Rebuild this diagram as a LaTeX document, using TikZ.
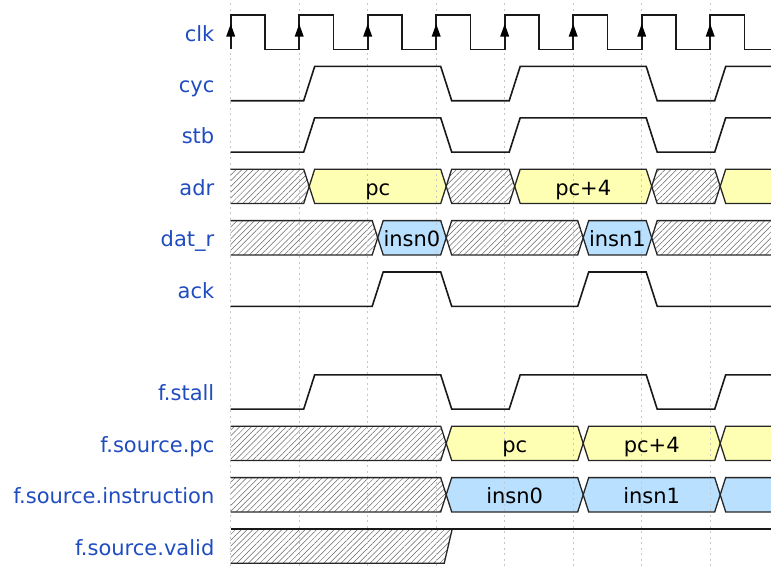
\documentclass[tikz,border=0pt]{standalone}
\usepackage{fontspec}
\setmainfont{DejaVu Sans}
\usetikzlibrary{patterns.meta}
\definecolor{lblblue}{HTML}{1F4CC0}
\definecolor{dyel}{HTML}{FFFFB4}
\definecolor{dblu}{HTML}{B9E0FF}
\pgfdeclarelayer{bg}
\pgfdeclarelayer{gridlayer}
\pgfsetlayers{bg,gridlayer,main}

\def\E#1{(230.7+68.5*(#1))}
\def\RT#1{(15+51.4*(#1))}
\def\RB#1{(49.3+51.4*(#1))}
\def\RM#1{(32.15+51.4*(#1))}

\tikzset{
  sig/.style={line width=1.6pt, line join=miter, black!90},
  busline/.style={line width=1.3pt, black!85, line join=miter},
  hatchfill/.style={pattern={Lines[angle=45,distance=4.1pt,line width=0.5pt]}, pattern color=black!60},
  yelfill/.style={fill=dyel},
  blufill/.style={fill=dblu},
  lbl/.style={anchor=base east, inner sep=0pt, text=lblblue, font=\fontsize{21}{21}\selectfont},
  bustext/.style={anchor=base, inner sep=0pt, font=\fontsize{21}{21}\selectfont},
  gridline/.style={gray!45, line width=0.9pt, dash pattern=on 2pt off 3.5pt},
}

% full hexagon segment: row, i, j, fill
\newcommand\busseg[4]{%
  \begin{pgfonlayer}{bg}
  \path[#4] ({\E{#2}+10},{\RM{#1}}) -- ({\E{#2}+15.5},{\RT{#1}}) -- ({\E{#3}+4.5},{\RT{#1}}) -- ({\E{#3}+10},{\RM{#1}}) -- ({\E{#3}+4.5},{\RB{#1}}) -- ({\E{#2}+15.5},{\RB{#1}}) -- cycle;
  \end{pgfonlayer}
  \draw[busline] ({\E{#2}+10},{\RM{#1}}) -- ({\E{#2}+15.5},{\RT{#1}}) -- ({\E{#3}+4.5},{\RT{#1}}) -- ({\E{#3}+10},{\RM{#1}}) -- ({\E{#3}+4.5},{\RB{#1}}) -- ({\E{#2}+15.5},{\RB{#1}}) -- cycle;
}
% text in a segment: name, row, i, j, text
\newcommand\bustxt[5]{%
  \node[bustext] (#1) at ({(\E{#3}+\E{#4})/2+10},{\RM{#2}+8.8}) {#5};
}
% first segment from start: row, j, fill
\newcommand\busstart[3]{%
  \begin{pgfonlayer}{bg}
  \path[#3] ({\E{0}},{\RT{#1}}) -- ({\E{#2}+4.5},{\RT{#1}}) -- ({\E{#2}+10},{\RM{#1}}) -- ({\E{#2}+4.5},{\RB{#1}}) -- ({\E{0}},{\RB{#1}}) -- cycle;
  \end{pgfonlayer}
  \draw[busline] ({\E{0}},{\RT{#1}}) -- ({\E{#2}+4.5},{\RT{#1}}) -- ({\E{#2}+10},{\RM{#1}}) -- ({\E{#2}+4.5},{\RB{#1}}) -- ({\E{0}},{\RB{#1}});
}
% last segment running off the right edge: row, i, fill
\newcommand\busend[3]{%
  \begin{pgfonlayer}{bg}
  \path[#3] (800,{\RT{#1}}) -- ({\E{#2}+15.5},{\RT{#1}}) -- ({\E{#2}+10},{\RM{#1}}) -- ({\E{#2}+15.5},{\RB{#1}}) -- (800,{\RB{#1}}) -- cycle;
  \end{pgfonlayer}
  \draw[busline] (800,{\RT{#1}}) -- ({\E{#2}+15.5},{\RT{#1}}) -- ({\E{#2}+10},{\RM{#1}}) -- ({\E{#2}+15.5},{\RB{#1}}) -- (800,{\RB{#1}});
}
% cyc-like digital wave
\newcommand\cycwave[1]{%
  \draw[sig] ({\E{0}},{\RB{#1}}) -- ({\E{1}+4.5},{\RB{#1}}) -- ({\E{1}+15.5},{\RT{#1}}) -- ({\E{3}+4.5},{\RT{#1}}) -- ({\E{3}+15.5},{\RB{#1}}) -- ({\E{4}+4.5},{\RB{#1}}) -- ({\E{4}+15.5},{\RT{#1}}) -- ({\E{6}+4.5},{\RT{#1}}) -- ({\E{6}+15.5},{\RB{#1}}) -- ({\E{7}+4.5},{\RB{#1}}) -- ({\E{7}+15.5},{\RT{#1}}) -- (800,{\RT{#1}});
}

\begin{document}
\begin{tikzpicture}[x=1pt,y=-1pt]
\useasboundingbox (0,0) rectangle (771,568);

% grid
\begin{pgfonlayer}{gridlayer}
\foreach \k in {0,...,7}
  \draw[gridline] ({\E{\k}},3) -- ({\E{\k}},568);
\end{pgfonlayer}

% labels
\node[lbl] (lclk)   at (214.5,{\RM{0}+9}) {clk};
\node[lbl] (lcyc)   at (214.5,{\RM{1}+9}) {cyc};
\node[lbl] (lstb)   at (214.5,{\RM{2}+9}) {stb};
\node[lbl] (ladr)   at (214.5,{\RM{3}+9}) {adr};
\node[lbl] (ldatr)  at (214.5,{\RM{4}+9}) {dat\_r};
\node[lbl] (lack)   at (214.5,{\RM{5}+9}) {ack};
\node[lbl] (lstall) at (214.5,{\RM{7}+9}) {f.stall};
\node[lbl] (lpc)    at (214.5,{\RM{8}+9}) {f.source.pc};
\node[lbl] (linsn)  at (214.5,{\RM{9}+9}) {f.source.instruction};
\node[lbl] (lvalid) at (214.5,{\RM{10}+9}) {f.source.valid};

% clk
\draw[sig] ({\E{0}},{\RB{0}}) foreach \k in {0,...,7} { -- ({\E{\k}},{\RT{0}}) -- ({\E{\k}+34.25},{\RT{0}}) -- ({\E{\k}+34.25},{\RB{0}}) -- ({\E{\k+1}},{\RB{0}}) };
\foreach \k in {0,...,7}
  \fill ({\E{\k}},24) -- ({\E{\k}-4.5},36.5) -- ({\E{\k}+4.5},36.5) -- cycle;

% cyc, stb, f.stall
\cycwave{1}
\cycwave{2}
\cycwave{7}

% ack
\draw[sig] ({\E{0}},{\RB{5}}) -- ({\E{2}+4.5},{\RB{5}}) -- ({\E{2}+15.5},{\RT{5}}) -- ({\E{3}+4.5},{\RT{5}}) -- ({\E{3}+15.5},{\RB{5}}) -- ({\E{5}+4.5},{\RB{5}}) -- ({\E{5}+15.5},{\RT{5}}) -- ({\E{6}+4.5},{\RT{5}}) -- ({\E{6}+15.5},{\RB{5}}) -- (800,{\RB{5}});

% adr
\busstart{3}{1}{hatchfill}
\busseg{3}{1}{3}{yelfill}
\bustxt{tpc}{3}{1}{3}{pc}
\busseg{3}{3}{4}{hatchfill}
\busseg{3}{4}{6}{yelfill}
\bustxt{tpcf}{3}{4}{6}{pc+4}
\busseg{3}{6}{7}{hatchfill}
\busend{3}{7}{yelfill}

% dat_r
\busstart{4}{2}{hatchfill}
\busseg{4}{2}{3}{blufill}
\bustxt{tinsnA}{4}{2}{3}{insn0}
\busseg{4}{3}{5}{hatchfill}
\busseg{4}{5}{6}{blufill}
\bustxt{tinsnB}{4}{5}{6}{insn1}
\busend{4}{6}{hatchfill}

% f.source.pc
\busstart{8}{3}{hatchfill}
\busseg{8}{3}{5}{yelfill}
\bustxt{spc}{8}{3}{5}{pc}
\busseg{8}{5}{7}{yelfill}
\bustxt{spcf}{8}{5}{7}{pc+4}
\busend{8}{7}{yelfill}

% f.source.instruction
\busstart{9}{3}{hatchfill}
\busseg{9}{3}{5}{blufill}
\bustxt{sinsnA}{9}{3}{5}{insn0}
\busseg{9}{5}{7}{blufill}
\bustxt{sinsnB}{9}{5}{7}{insn1}
\busend{9}{7}{blufill}

% f.source.valid
\begin{pgfonlayer}{bg}
\path[hatchfill] ({\E{0}},{\RT{10}}) -- ({\E{3}+16},{\RT{10}}) -- ({\E{3}+8},{\RB{10}}) -- ({\E{0}},{\RB{10}}) -- cycle;
\end{pgfonlayer}
\draw[busline] ({\E{0}},{\RB{10}}) -- ({\E{3}+8},{\RB{10}}) -- ({\E{3}+16},{\RT{10}});
\draw[sig] ({\E{0}},{\RT{10}}) -- (800,{\RT{10}});
\end{tikzpicture}
\end{document}
